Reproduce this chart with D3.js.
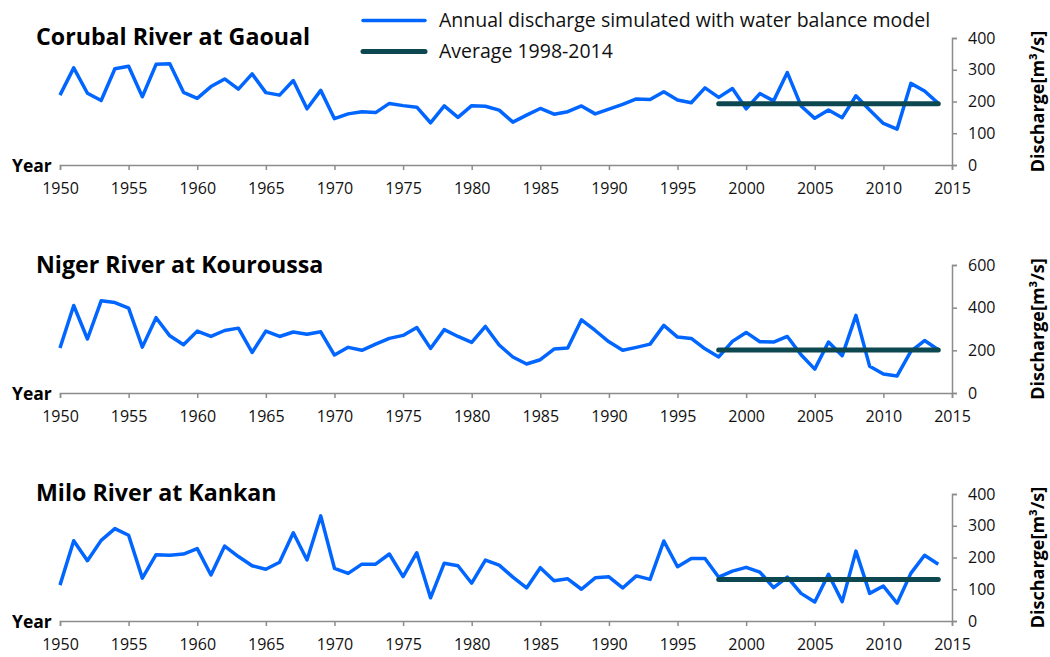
<!DOCTYPE html>
<html>
<head>
<meta charset="utf-8">
<script src="https://cdn.jsdelivr.net/npm/d3@7"></script>
<style>
  body { margin: 0; background: #fff; }
  svg { display: block; font-family: "Open Sans", sans-serif; }
</style>
</head>
<body>
<svg id="chart" width="1050" height="657"></svg>
<script>
"use strict";

// years 1950..2014
const years = d3.range(1950, 2015);
const xTicks = d3.range(1950, 2016, 5);

const corubal = [220, 306, 226, 203, 303, 311, 215, 317, 319, 229,
                 210, 247, 271, 239, 287, 228, 220, 266, 177, 235,
                 146, 161, 168, 165, 194, 187, 182, 133, 186, 150,
                 187, 185, 173, 135, 157, 178, 160, 168, 186, 161,
                 176, 191, 208, 206, 231, 205, 196, 243, 213, 241,
                 177, 225, 202, 291, 186, 147, 173, 149, 218, 173,
                 131, 113, 257, 233, 194];
const niger = [211, 410, 253, 432, 424, 398, 215, 353, 268, 226,
               290, 265, 293, 304, 190, 290, 265, 286, 275, 287,
               178, 214, 200, 229, 256, 270, 307, 209, 297, 265,
               237, 312, 225, 169, 136, 156, 206, 211, 343, 293,
               240, 200, 214, 229, 317, 262, 256, 207, 169, 242,
               284, 240, 239, 265, 179, 112, 239, 175, 364, 125,
               89, 80, 195, 246, 203];
const milo = [113, 253, 190, 254, 291, 270, 135, 209, 207, 211,
              228, 145, 236, 203, 174, 163, 185, 278, 192, 331,
              166, 150, 179, 179, 211, 140, 215, 73, 182, 174,
              119, 192, 176, 138, 104, 168, 127, 133, 100, 136,
              139, 104, 142, 131, 252, 171, 197, 197, 138, 157,
              169, 154, 105, 138, 87, 60, 147, 61, 220, 87,
              110, 56, 150, 207, 179];

const avgYears = [1998, 2014];
const averages = [193, 201, 131];

const titles = ["Corubal River at Gaoual", "Niger River at Kouroussa", "Milo River at Kankan"];
const yMaxes = [400, 600, 400];
const yTickSteps = [100, 200, 100];
const series = [corubal, niger, milo];

const legendLabels = ["Annual discharge simulated with water balance model", "Average 1998-2014"];

const blue = "#0066ff";
const dark = "#0d4750";
const axisGray = "#8c8c8c";

const svg = d3.select("#chart");

// plot frame: x left/right, top/bottom for each panel
const x0 = 60, x1 = 952;
const panels = [
  {top: 38, bottom: 165, titleY: 45},
  {top: 265, bottom: 393, titleY: 273},
  {top: 494, bottom: 621, titleY: 501}
];

const x = d3.scaleLinear().domain([1950, 2015]).range([x0, x1]);

panels.forEach((p, i) => {
  const y = d3.scaleLinear().domain([0, yMaxes[i]]).range([p.bottom, p.top]);
  const g = svg.append("g");

  g.append("text")
    .attr("x", 36).attr("y", p.titleY)
    .attr("font-size", 23.2).attr("font-weight", "bold")
    .text(titles[i]);

  // x axis
  const xAxis = g.append("g")
    .attr("transform", "translate(0," + p.bottom + ")")
    .call(d3.axisBottom(x).tickValues(xTicks).tickFormat(d3.format("d")).tickSize(5).tickPadding(13));
  xAxis.select("path").attr("stroke", axisGray).attr("stroke-width", 1.5);
  xAxis.selectAll("line").attr("stroke", axisGray).attr("stroke-width", 1.5);
  xAxis.selectAll("text").attr("font-size", 16).attr("fill", "#111")
    .attr("font-family", "Open Sans");

  // y axis on right
  const yAxis = g.append("g")
    .attr("transform", "translate(" + x1 + ",0)")
    .call(d3.axisRight(y).tickValues(d3.range(0, yMaxes[i] + 1, yTickSteps[i])).tickSize(5).tickPadding(11));
  yAxis.select("path").attr("stroke", axisGray).attr("stroke-width", 1.5);
  yAxis.selectAll("line").attr("stroke", axisGray).attr("stroke-width", 1.5);
  yAxis.selectAll("text").attr("font-size", 16).attr("fill", "#111")
    .attr("font-family", "Open Sans");

  g.append("text")
    .attr("x", 12).attr("y", p.bottom + 7)
    .attr("font-size", 17.5).attr("font-weight", "bold")
    .text("Year");

  g.append("text")
    .attr("transform", "translate(1044," + (p.top + p.bottom) / 2 + ") rotate(-90)")
    .attr("text-anchor", "middle")
    .attr("font-size", 18).attr("font-weight", "bold")
    .text("Discharge[m³/s]");

  const line = d3.line()
    .x((d, j) => x(years[j]))
    .y(d => y(d));

  g.append("path")
    .datum(series[i])
    .attr("d", line)
    .attr("fill", "none")
    .attr("stroke", blue)
    .attr("stroke-width", 3.5)
    .attr("stroke-linejoin", "round");

  g.append("line")
    .attr("x1", x(avgYears[0])).attr("x2", x(avgYears[1]))
    .attr("y1", y(averages[i])).attr("y2", y(averages[i]))
    .attr("stroke", dark).attr("stroke-width", 5)
    .attr("stroke-linecap", "round");
});

// legend
const legend = svg.append("g");
const legendColors = [blue, dark];
const legendWidths = [3.5, 5];
const legendY = [20.5, 51.5];
legendLabels.forEach((lab, i) => {
  legend.append("line")
    .attr("x1", 363).attr("x2", 425)
    .attr("y1", legendY[i]).attr("y2", legendY[i])
    .attr("stroke", legendColors[i]).attr("stroke-width", legendWidths[i])
    .attr("stroke-linecap", "round");
  legend.append("text")
    .attr("x", 439).attr("y", legendY[i] + 6.5)
    .attr("font-size", 19.5)
    .attr("fill", "#111")
    .text(lab);
});
</script>
</body>
</html>
